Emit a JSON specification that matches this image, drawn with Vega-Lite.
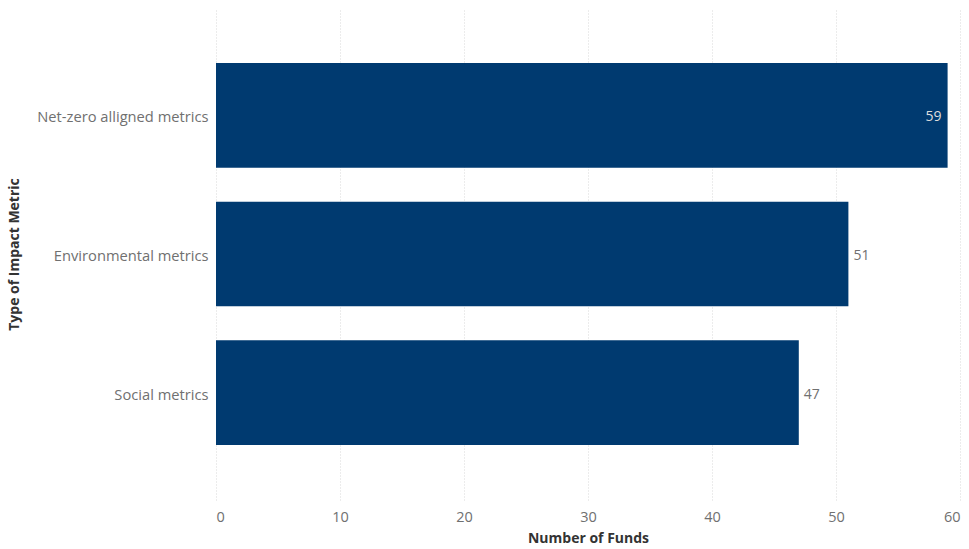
{
  "$schema": "https://vega.github.io/schema/vega-lite/v6.json",
  "width": 744,
  "height": 492,
  "autosize": {"type": "none"},
  "padding": {"left": 216, "top": 8, "right": 9, "bottom": 49},
  "background": "white",
  "config": {
    "view": {"stroke": null},
    "font": "Open Sans"
  },
  "data": {
    "values": [
      {"metric": "Net-zero alligned metrics", "funds": 59},
      {"metric": "Environmental metrics", "funds": 51},
      {"metric": "Social metrics", "funds": 47}
    ]
  },
  "encoding": {
    "y": {
      "field": "metric",
      "type": "nominal",
      "sort": null,
      "scale": {"paddingInner": 0.245, "paddingOuter": 0.396},
      "axis": {
        "title": "Type of Impact Metric",
        "titleFont": "Open Sans",
        "titleFontWeight": "bold",
        "titleFontSize": 14,
        "titleColor": "#333333",
        "titleX": -202,
        "titleY": 246,
        "titleAlign": "center",
        "titleBaseline": "middle",
        "labelFontSize": 14.7,
        "labelColor": "#707070",
        "labelPadding": 8,
        "labelOffset": 3,
        "ticks": false,
        "domain": false,
        "grid": false
      }
    },
    "x": {
      "field": "funds",
      "type": "quantitative",
      "scale": {"domain": [0, 60], "nice": false},
      "axis": {
        "title": "Number of Funds",
        "titleFont": "Open Sans",
        "titleFontWeight": "bold",
        "titleFontSize": 14,
        "titleColor": "#333333",
        "titlePadding": 8,
        "values": [0, 10, 20, 30, 40, 50, 60],
        "labelFontSize": 14.5,
        "labelColor": "#707070",
        "labelPadding": 10,
        "ticks": false,
        "domain": false,
        "grid": true,
        "gridColor": "#d8d8d8",
        "gridDash": [1, 2],
        "gridWidth": 1
      }
    }
  },
  "layer": [
    {"mark": {"type": "bar", "color": "#003A70"}},
    {
      "transform": [{"filter": "datum.funds > 55"}],
      "mark": {"type": "text", "align": "right", "dx": -6, "dy": 2, "fontSize": 14, "color": "#dddddd"},
      "encoding": {"text": {"field": "funds", "type": "quantitative"}}
    },
    {
      "transform": [{"filter": "datum.funds <= 55"}],
      "mark": {"type": "text", "align": "left", "dx": 5, "dy": 2, "fontSize": 14, "color": "#707070"},
      "encoding": {"text": {"field": "funds", "type": "quantitative"}}
    }
  ]
}
